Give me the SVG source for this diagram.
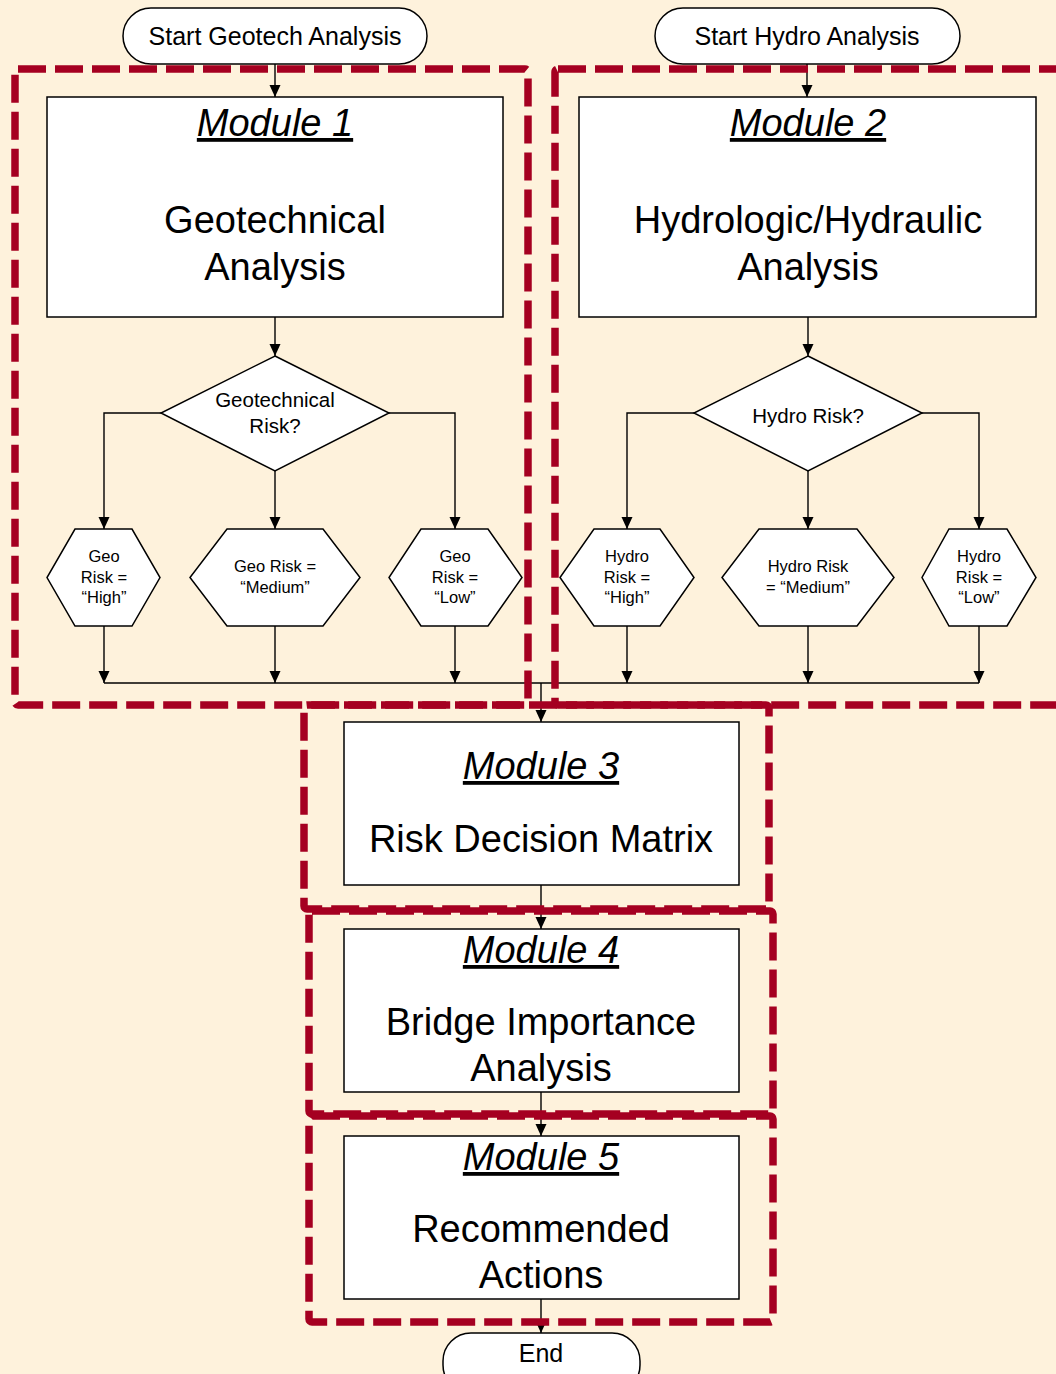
<svg xmlns="http://www.w3.org/2000/svg" width="1056" height="1374" viewBox="0 0 1056 1374">
<style>
text{font-family:"Liberation Sans",Arial,sans-serif;fill:#000;text-anchor:middle}
.node{fill:#fff;stroke:#000;stroke-width:1.5}
.conn{fill:none;stroke:#000;stroke-width:1.4}
.zone{fill:none;stroke:#A50021;stroke-width:7.5;stroke-dasharray:28 9}
.title{font-size:38px;font-style:italic;text-decoration:underline}
.big{font-size:38px}
.start{font-size:25px}
.dec{font-size:20.5px}
.hex{font-size:16.5px}
</style>
<defs>
<marker id="arr" viewBox="0 0 12 12" refX="12" refY="6" markerWidth="12" markerHeight="12" markerUnits="userSpaceOnUse" orient="auto">
<path d="M0,0.5 L12,6 L0,11.5 z" fill="#000"/>
</marker>
</defs>
<rect width="1056" height="1374" fill="#FEF2DC"/>

<g id="connectors">
<path class="conn" d="M275,64 V97" marker-end="url(#arr)"/>
<path class="conn" d="M807,64 V97" marker-end="url(#arr)"/>
<path class="conn" d="M275,317 V356" marker-end="url(#arr)"/>
<path class="conn" d="M808,317 V356" marker-end="url(#arr)"/>
<path class="conn" d="M161,413 H104 V529" marker-end="url(#arr)"/>
<path class="conn" d="M275,471 V529" marker-end="url(#arr)"/>
<path class="conn" d="M389,413 H455 V529" marker-end="url(#arr)"/>
<path class="conn" d="M694,413 H627 V529" marker-end="url(#arr)"/>
<path class="conn" d="M808,471 V529" marker-end="url(#arr)"/>
<path class="conn" d="M922,413 H979 V529" marker-end="url(#arr)"/>
<path class="conn" d="M104,626 V683" marker-end="url(#arr)"/>
<path class="conn" d="M275,626 V683" marker-end="url(#arr)"/>
<path class="conn" d="M455,626 V683" marker-end="url(#arr)"/>
<path class="conn" d="M627,626 V683" marker-end="url(#arr)"/>
<path class="conn" d="M808,626 V683" marker-end="url(#arr)"/>
<path class="conn" d="M979,626 V683" marker-end="url(#arr)"/>
<path class="conn" d="M104,683 H979"/>
<path class="conn" d="M541,683 V722" marker-end="url(#arr)"/>
<path class="conn" d="M541,885 V929" marker-end="url(#arr)"/>
<path class="conn" d="M541,1092 V1136" marker-end="url(#arr)"/>
<path class="conn" d="M541,1299 V1333" marker-end="url(#arr)"/>
</g>

<g id="start-geo">
<rect class="node" x="123" y="8" width="304" height="56" rx="28"/>
<text class="start" x="275" y="45">Start Geotech Analysis</text>
</g>
<g id="start-hydro">
<rect class="node" x="655" y="8" width="305" height="56" rx="28"/>
<text class="start" x="807" y="45">Start Hydro Analysis</text>
</g>

<g id="module1">
<rect class="node" x="47" y="97" width="456" height="220"/>
<text class="title" x="275" y="136">Module 1</text>
<text class="big" x="275" y="233">Geotechnical</text>
<text class="big" x="275" y="280">Analysis</text>
</g>
<g id="module2">
<rect class="node" x="579" y="97" width="457" height="220"/>
<text class="title" x="808" y="136">Module 2</text>
<text class="big" x="808" y="233">Hydrologic/Hydraulic</text>
<text class="big" x="808" y="280">Analysis</text>
</g>

<g id="geo-risk">
<polygon class="node" points="275,356 389,413 275,471 161,413"/>
<text class="dec" x="275" y="407">Geotechnical</text>
<text class="dec" x="275" y="433">Risk?</text>
</g>
<g id="hydro-risk">
<polygon class="node" points="808,356 922,413 808,471 694,413"/>
<text class="dec" x="808" y="423">Hydro Risk?</text>
</g>

<g id="geo-high">
<polygon class="node" points="75,529 132,529 160,577.5 132,626 75,626 47,577.5"/>
<text class="hex" x="104" y="562">Geo</text>
<text class="hex" x="104" y="583">Risk =</text>
<text class="hex" x="104" y="603">“High”</text>
</g>
<g id="geo-medium">
<polygon class="node" points="227,529 323,529 360,577.5 323,626 227,626 190,577.5"/>
<text class="hex" x="275" y="572">Geo Risk =</text>
<text class="hex" x="275" y="593">“Medium”</text>
</g>
<g id="geo-low">
<polygon class="node" points="421,529 488,529 522,577.5 488,626 421,626 389,577.5"/>
<text class="hex" x="455" y="562">Geo</text>
<text class="hex" x="455" y="583">Risk =</text>
<text class="hex" x="455" y="603">“Low”</text>
</g>
<g id="hydro-high">
<polygon class="node" points="594,529 660,529 694,577.5 660,626 594,626 560,577.5"/>
<text class="hex" x="627" y="562">Hydro</text>
<text class="hex" x="627" y="583">Risk =</text>
<text class="hex" x="627" y="603">“High”</text>
</g>
<g id="hydro-medium">
<polygon class="node" points="759,529 857,529 894,577.5 857,626 759,626 722,577.5"/>
<text class="hex" x="808" y="572">Hydro Risk</text>
<text class="hex" x="808" y="593">= “Medium”</text>
</g>
<g id="hydro-low">
<polygon class="node" points="949,529 1007,529 1036,577.5 1007,626 949,626 922,577.5"/>
<text class="hex" x="979" y="562">Hydro</text>
<text class="hex" x="979" y="583">Risk =</text>
<text class="hex" x="979" y="603">“Low”</text>
</g>

<g id="module3">
<rect class="node" x="344" y="722" width="395" height="163"/>
<text class="title" x="541" y="779">Module 3</text>
<text class="big" x="541" y="852">Risk Decision Matrix</text>
</g>
<g id="module4">
<rect class="node" x="344" y="929" width="395" height="163"/>
<text class="title" x="541" y="963">Module 4</text>
<text class="big" x="541" y="1035">Bridge Importance</text>
<text class="big" x="541" y="1081">Analysis</text>
</g>
<g id="module5">
<rect class="node" x="344" y="1136" width="395" height="163"/>
<text class="title" x="541" y="1170">Module 5</text>
<text class="big" x="541" y="1242">Recommended</text>
<text class="big" x="541" y="1288">Actions</text>
</g>
<g id="end">
<rect class="node" x="443" y="1333" width="197" height="60" rx="28"/>
<text class="start" x="541" y="1362">End</text>
</g>

<g id="zones">
<rect class="zone" x="15" y="69" width="513" height="636" rx="3"/>
<rect class="zone" x="555" y="69" width="510" height="636" rx="3"/>
<rect class="zone" x="304" y="705" width="465" height="204" rx="3"/>
<rect class="zone" x="309" y="911" width="464" height="203" rx="3"/>
<rect class="zone" x="309" y="1116" width="464" height="206" rx="3"/>
</g>
</svg>
